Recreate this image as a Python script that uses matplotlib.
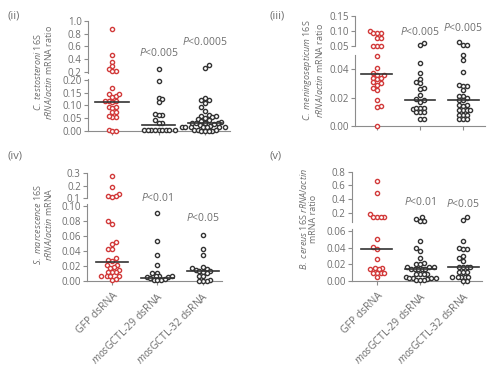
import numpy as np
import matplotlib.pyplot as plt
from matplotlib.transforms import blended_transform_factory

plt.rcParams['font.family'] = ['Open Sans', 'DejaVu Sans']
plt.rcParams['mathtext.fontset'] = 'custom'
plt.rcParams['mathtext.rm'] = 'Open Sans'
plt.rcParams['mathtext.it'] = 'Open Sans:italic'

groups = ['GFP dsRNA', r'$\it{mos}$GCTL-29 dsRNA', r'$\it{mos}$GCTL-32 dsRNA']

# (ii) C. testosteroni
ii_gfp = [0.87, 0.47, 0.36, 0.29, 0.25, 0.21, 0.21, 0.167, 0.144, 0.133, 0.137, 0.144,
          0.116, 0.112, 0.116, 0.116, 0.093, 0.096, 0.091, 0.073, 0.076, 0.056, 0.056,
          0.06, 0.003, 0.0, 0.0]
ii_g29 = [0.25, 0.197, 0.131, 0.124, 0.113, 0.067, 0.064, 0.064, 0.044, 0.033, 0.033,
          0.004, 0.003, 0.003, 0.003, 0.003, 0.003, 0.003, 0.003, 0.003]
ii_g32 = [0.31, 0.268, 0.131, 0.123, 0.123, 0.109, 0.093, 0.08, 0.064, 0.06, 0.06, 0.056,
          0.05, 0.047, 0.045, 0.04, 0.035, 0.033, 0.032, 0.03, 0.03, 0.028, 0.025, 0.021,
          0.016, 0.015, 0.015, 0.015, 0.015, 0.015, 0.015, 0.003, 0.002, 0.002, 0.001,
          0.001, 0.0, 0.0]
ii_med = [0.115, 0.025, 0.03]

# (iii) C. meningosepticum
iii_gfp = [0.1, 0.095, 0.094, 0.094, 0.077, 0.077, 0.051, 0.051, 0.051, 0.049, 0.041,
           0.037, 0.036, 0.036, 0.034, 0.033, 0.034, 0.03, 0.029, 0.031, 0.027, 0.025,
           0.018, 0.014, 0.0135, 0.0]
iii_g29 = [0.059, 0.055, 0.0447, 0.037, 0.033, 0.031, 0.03, 0.027, 0.026, 0.022, 0.019,
           0.018, 0.017, 0.013, 0.013, 0.012, 0.013, 0.01, 0.01, 0.01, 0.0047, 0.0047]
iii_g32 = [0.062, 0.055, 0.055, 0.05, 0.0465, 0.038, 0.029, 0.028, 0.028, 0.025, 0.021,
           0.021, 0.02, 0.018, 0.018, 0.015, 0.015, 0.014, 0.011, 0.011, 0.011, 0.011,
           0.008, 0.008, 0.008, 0.0047, 0.0047, 0.0047]
iii_med = [0.0365, 0.0185, 0.0185]

# (iv) S. marcescence
iv_gfp = [0.28, 0.19, 0.13, 0.12, 0.12, 0.11, 0.08, 0.0755, 0.052, 0.049, 0.042, 0.042,
          0.031, 0.028, 0.027, 0.021, 0.021, 0.019, 0.017, 0.015, 0.012, 0.012, 0.012,
          0.006, 0.006, 0.006, 0.006, 0.002, 0.001]
iv_g29 = [0.09, 0.0535, 0.0345, 0.021, 0.011, 0.01, 0.006, 0.006, 0.005, 0.006, 0.005,
          0.004, 0.003, 0.001, 0.001, 0.001]
iv_g32 = [0.061, 0.043, 0.035, 0.018, 0.017, 0.016, 0.015, 0.013, 0.013, 0.012, 0.01,
          0.007, 0.006, 0.001, 0.0, 0.0, 0.0]
iv_med = [0.025, 0.0045, 0.0135]

# (v) B. cereus
v_gfp = [0.664, 0.483, 0.185, 0.141, 0.141, 0.141, 0.141, 0.05, 0.041, 0.038, 0.026,
         0.016, 0.016, 0.014, 0.015, 0.01, 0.01, 0.01, 0.01, 0.0044]
v_g29 = [0.141, 0.102, 0.085, 0.085, 0.048, 0.04, 0.036, 0.028, 0.022, 0.021, 0.02,
         0.017, 0.017, 0.017, 0.015, 0.014, 0.014, 0.014, 0.014, 0.009, 0.009, 0.009,
         0.009, 0.005, 0.004, 0.004, 0.004, 0.004, 0.002, 0.001, 0.001, 0.001]
v_g32 = [0.141, 0.093, 0.048, 0.04, 0.0384, 0.0384, 0.03, 0.028, 0.024, 0.017, 0.017,
         0.017, 0.017, 0.011, 0.011, 0.011, 0.005, 0.005, 0.005, 0.005, 0.005, 0.0, 0.0]
v_med = [0.0385, 0.0145, 0.0165]

RED = '#d23a3a'
DARK = '#333333'
GREY = '#6e6e6e'
AXC = '#8c8c8c'

W, H = 500, 366
fig = plt.figure(figsize=(5, 3.66), dpi=100)


def rect(x0, x1, ybot, ytop):
    return [x0 / W, 1 - ybot / H, (x1 - x0) / W, (ybot - ytop) / H]


def swarm(ax, xc, vals, dx=3.6, dy=4.2):
    # beeswarm in pixel space: points closer than an ellipse (dx, dy) are pushed sideways
    vals = np.asarray(vals, float)
    if len(vals) == 0:
        return vals
    ys = ax.transData.transform(np.column_stack([np.full(len(vals), xc), vals]))[:, 1]
    pxu = ax.transData.transform((1, 0))[0] - ax.transData.transform((0, 0))[0]
    placed = []
    offs = np.zeros(len(vals))
    side = 1
    for i in np.argsort(ys):
        best = None
        for k in range(0, 80):
            for c in ([0.0] if k == 0 else [side * k * dx / 2, -side * k * dx / 2]):
                if all(((c - ox) / dx) ** 2 + ((ys[i] - oy) / dy) ** 2 >= 1 for ox, oy in placed):
                    best = c
                    break
            if best is not None:
                break
        if best != 0:
            side = -np.sign(best)
        placed.append((best, ys[i]))
        offs[i] = best
    return xc + offs / pxu


def style(ax, xlim, ylim, ticks, labels, bottom):
    ax.set_xlim(*xlim)
    ax.set_ylim(*ylim)
    ax.patch.set_alpha(0)
    for s in ['top', 'right']:
        ax.spines[s].set_visible(False)
    ax.spines['left'].set_color(AXC)
    ax.spines['bottom'].set_color(AXC)
    ax.spines['bottom'].set_visible(bottom)
    ax.set_yticks(ticks)
    ax.set_yticklabels(labels)
    ax.tick_params(axis='y', colors=AXC, labelcolor=GREY, labelsize=7, length=3,
                   width=0.8, pad=1.5)
    ax.tick_params(axis='x', colors=AXC, length=3, width=0.8)
    if not bottom:
        ax.set_xticks([])


panels = [
    dict(tag='(ii)', data=[ii_gfp, ii_g29, ii_g32], med=ii_med, cut=0.2,
         x=(88, 230), xlim=(-0.52, 2.54),
         lo=(131, 78.7, (0, 0.205), [0, 0.05, 0.1, 0.15, 0.2], ['0.00', '0.05', '0.10', '0.15', '0.20']),
         hi=(72.6, 21, (0.19, 1.0), [0.2, 0.4, 0.6, 0.8, 1.0], ['0.2', '0.4', '0.6', '0.8', '1.0']),
         ylabel=r'$\it{C.\ testosteroni}$ 16S' + '\n' + r'$\it{rRNA/actin}$ mRNA ratio',
         ylab_xy=(43, 72), tag_xy=(7, 16),
         pvals=[(1, 53, 'P<0.005'), (2, 42, 'P<0.0005')], xlabels=False),
    dict(tag='(iii)', data=[iii_gfp, iii_g29, iii_g32], med=iii_med, cut=0.0505,
         x=(355, 485), xlim=(-0.51, 2.51),
         lo=(126, 55, (0, 0.05), [0, 0.02, 0.04], ['0.00', '0.02', '0.04']),
         hi=(46, 16, (0.05, 0.15), [0.05, 0.10, 0.15], ['0.05', '0.10', '0.15']),
         ylabel=r'$\it{C.\ meningosepticum}$ 16S' + '\n' + r'$\it{rRNA/actin}$ mRNA ratio',
         ylab_xy=(313, 70), tag_xy=(270, 16),
         pvals=[(1, 32, 'P<0.005'), (2, 28, 'P<0.005')], xlabels=False),
    dict(tag='(iv)', data=[iv_gfp, iv_g29, iv_g32], med=iv_med, cut=0.104,
         x=(87, 222), xlim=(-0.55, 2.42),
         lo=(281, 203.5, (0, 0.1033), [0, 0.02, 0.04, 0.06, 0.08, 0.10],
             ['0.00', '0.02', '0.04', '0.06', '0.08', '0.10']),
         hi=(198, 173, (0.1, 0.3), [0.1, 0.2, 0.3], ['0.1', '0.2', '0.3']),
         ylabel=r'$\it{S.\ marcescence}$ 16S' + '\n' + r'$\it{rRNA/actin}$ mRNA',
         ylab_xy=(43, 224), tag_xy=(7, 156),
         pvals=[(1, 198, 'P<0.01'), (2, 218, 'P<0.05')], xlabels=True),
    dict(tag='(v)', data=[v_gfp, v_g29, v_g32], med=v_med, cut=0.065,
         x=(352, 482), xlim=(-0.58, 2.44),
         lo=(281, 228.5, (0, 0.063), [0, 0.02, 0.04, 0.06], ['0.00', '0.02', '0.04', '0.06']),
         hi=(221.6, 171.7, (0.07, 0.8), [0.2, 0.4, 0.6, 0.8], ['0.2', '0.4', '0.6', '0.8']),
         ylabel=r'$\it{B.\ cereus}$ 16S $\it{rRNA/actin}$' + '\n' + 'mRNA ratio',
         ylab_xy=(308, 219), tag_xy=(270, 156),
         pvals=[(1, 202, 'P<0.01'), (2, 204, 'P<0.05')], xlabels=True),
]

for p in panels:
    x0, x1 = p['x']
    lb, lt, lylim, lticks, llabels = p['lo']
    hb, ht, hylim, hticks, hlabels = p['hi']
    ax_lo = fig.add_axes(rect(x0, x1, lb, lt))
    ax_hi = fig.add_axes(rect(x0, x1, hb, ht))
    style(ax_lo, p['xlim'], lylim, lticks, llabels, True)
    style(ax_hi, p['xlim'], hylim, hticks, hlabels, False)
    ax_lo.set_xticks(range(len(groups)))
    if p['xlabels']:
        ax_lo.set_xticklabels(groups, rotation=45, ha='right', rotation_mode='anchor',
                              fontsize=7.5, color=GREY)
    else:
        ax_lo.set_xticklabels([])

    for i, vals in enumerate(p['data']):
        vals = np.asarray(vals)
        col = RED if i == 0 else DARK
        for ax, sel in [(ax_lo, vals <= p['cut']), (ax_hi, vals > p['cut'])]:
            v = vals[sel]
            xs = swarm(ax, i, v)
            ax.scatter(xs, v, s=9, facecolors='white', edgecolors=col, linewidths=1.0,
                       clip_on=False, zorder=3)
        ax_lo.plot([i - 0.36, i + 0.36], [p['med'][i]] * 2, color=DARK, lw=1.2, zorder=4)

    trans = blended_transform_factory(ax_lo.transData, fig.transFigure)
    for gi, ypx, txt in p['pvals']:
        ax_lo.text(gi, 1 - ypx / H, r'$\it{P}$' + txt[1:], transform=trans, ha='center',
                   va='center', fontsize=7.5, color=GREY, clip_on=False)

    fig.text(p['ylab_xy'][0] / W, 1 - p['ylab_xy'][1] / H, p['ylabel'], rotation=90,
             ha='center', va='center', multialignment='center', fontsize=6.5,
             color=GREY, linespacing=1.1)
    fig.text(p['tag_xy'][0] / W, 1 - p['tag_xy'][1] / H, p['tag'], ha='left', va='center',
             fontsize=8, color=GREY)

fig.savefig('out.png', dpi=100)
